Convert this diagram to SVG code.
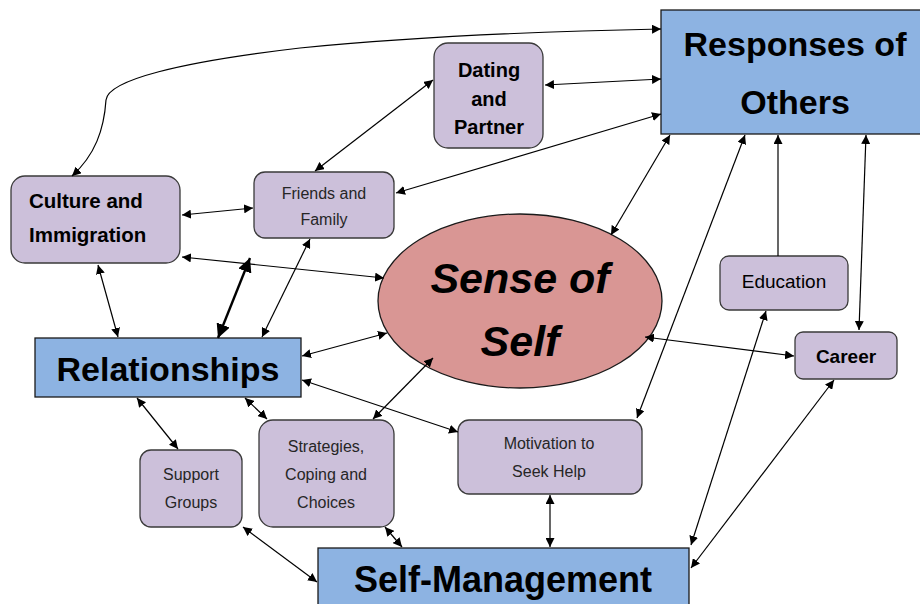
<svg xmlns="http://www.w3.org/2000/svg" width="920" height="604" viewBox="0 0 920 604">
<defs>
<style>
.p{fill:#ccc0da;stroke:#3a3a3a;stroke-width:1.3}
.b{fill:#8db3e2;stroke:#1a1a1a;stroke-width:1.3}
.t{font-family:"Liberation Sans",Arial,sans-serif;fill:#000;text-anchor:middle}
.l{text-anchor:start}
.bd{font-weight:bold}
.s{font-size:16px;fill:#262626}
.c{fill:none;stroke:#000;stroke-width:1.2}
</style>
<marker id="a" viewBox="0 0 10 10" refX="10" refY="5" markerWidth="9" markerHeight="9" markerUnits="userSpaceOnUse" orient="auto-start-reverse">
<path d="M0,0 L10,5 L0,10 z" fill="#000"/>
</marker>
<marker id="ab" viewBox="0 0 10 10" refX="10" refY="5" markerWidth="14" markerHeight="14" markerUnits="userSpaceOnUse" orient="auto-start-reverse">
<path d="M0,0 L10,5 L0,10 z" fill="#000"/>
</marker>
</defs>
<rect width="920" height="604" fill="#fff"/>
<g id="responses">
<rect class="b" x="661" y="10" width="262" height="124"/>
<text class="t bd" x="795" y="56" font-size="34">Responses of</text>
<text class="t bd" x="795" y="114" font-size="34">Others</text>
</g>
<g id="dating">
<rect class="p" x="434" y="43" width="109" height="105" rx="14"/>
<text class="t bd" x="489" y="77" font-size="20">Dating</text>
<text class="t bd" x="489" y="106" font-size="20">and</text>
<text class="t bd" x="489" y="134" font-size="20">Partner</text>
</g>
<g id="culture">
<rect class="p" x="11" y="176" width="169" height="87" rx="14"/>
<text class="t l bd" x="29" y="208" font-size="20.5">Culture and</text>
<text class="t l bd" x="29" y="242" font-size="20.5">Immigration</text>
</g>
<g id="friends">
<rect class="p" x="254" y="172" width="140" height="66" rx="11"/>
<text class="t s" x="324" y="199">Friends and</text>
<text class="t s" x="324" y="225">Family</text>
</g>
<g id="sense">
<ellipse cx="520" cy="301" rx="142" ry="87" fill="#d99694" stroke="#1a1a1a" stroke-width="1.3"/>
<text class="t bd" x="520" y="293" font-size="43" font-style="italic">Sense of</text>
<text class="t bd" x="520" y="356" font-size="43" font-style="italic">Self</text>
</g>
<g id="relationships">
<rect class="b" x="35" y="338" width="266" height="59"/>
<text class="t bd" x="168" y="381" font-size="34">Relationships</text>
</g>
<g id="support">
<rect class="p" x="140" y="450" width="102" height="77" rx="11"/>
<text class="t s" x="191" y="480">Support</text>
<text class="t s" x="191" y="508">Groups</text>
</g>
<g id="strategies">
<rect class="p" x="259" y="420" width="135" height="107" rx="14"/>
<text class="t s" x="326" y="452">Strategies,</text>
<text class="t s" x="326" y="480">Coping and</text>
<text class="t s" x="326" y="508">Choices</text>
</g>
<g id="motivation">
<rect class="p" x="458" y="420" width="184" height="74" rx="11"/>
<text class="t s" x="549" y="449">Motivation to</text>
<text class="t s" x="549" y="477">Seek Help</text>
</g>
<g id="education">
<rect class="p" x="720" y="256" width="128" height="54" rx="9"/>
<text class="t" x="784" y="288" font-size="19" fill="#262626">Education</text>
</g>
<g id="career">
<rect class="p" x="795" y="332" width="102" height="47" rx="8"/>
<text class="t bd" x="846" y="363" font-size="19">Career</text>
</g>
<g id="selfmanagement">
<rect class="b" x="318" y="548" width="371" height="60"/>
<text class="t bd" x="503" y="592" font-size="36">Self-Management</text>
</g>
<g id="connectors">
<path class="c" d="M72,176 C95,155 104,130 106,100 C108,80 180,62 300,48 C420,36 560,31 661,29" marker-start="url(#a)" marker-end="url(#a)"/>
<line class="c" x1="545" y1="85" x2="661" y2="79" marker-start="url(#a)" marker-end="url(#a)"/>
<line class="c" x1="315" y1="171" x2="433" y2="80" marker-start="url(#a)" marker-end="url(#a)"/>
<line class="c" x1="396" y1="193" x2="661" y2="114" marker-start="url(#a)" marker-end="url(#a)"/>
<line class="c" x1="182" y1="215" x2="253" y2="208" marker-start="url(#a)" marker-end="url(#a)"/>
<line class="c" x1="182" y1="257" x2="384" y2="278" marker-start="url(#a)" marker-end="url(#a)"/>
<line class="c" style="stroke-width:2.4" x1="218" y1="338" x2="250" y2="258" marker-start="url(#ab)" marker-end="url(#ab)"/>
<line class="c" x1="98" y1="265" x2="118" y2="337" marker-start="url(#a)" marker-end="url(#a)"/>
<line class="c" x1="310" y1="239" x2="262" y2="337" marker-start="url(#a)" marker-end="url(#a)"/>
<line class="c" x1="387" y1="333" x2="302" y2="356" marker-start="url(#a)" marker-end="url(#a)"/>
<line class="c" x1="433" y1="358" x2="373" y2="419" marker-start="url(#a)" marker-end="url(#a)"/>
<line class="c" x1="302" y1="380" x2="458" y2="432" marker-start="url(#a)" marker-end="url(#a)"/>
<line class="c" x1="137" y1="398" x2="178" y2="449" marker-start="url(#a)" marker-end="url(#a)"/>
<line class="c" x1="245" y1="398" x2="267" y2="419" marker-start="url(#a)" marker-end="url(#a)"/>
<line class="c" x1="243" y1="527" x2="317" y2="582" marker-start="url(#a)" marker-end="url(#a)"/>
<line class="c" x1="385" y1="527" x2="402" y2="547" marker-start="url(#a)" marker-end="url(#a)"/>
<line class="c" x1="550" y1="495" x2="550" y2="547" marker-start="url(#a)" marker-end="url(#a)"/>
<line class="c" x1="670" y1="135" x2="611" y2="235" marker-start="url(#a)" marker-end="url(#a)"/>
<line class="c" x1="745" y1="135" x2="637" y2="418" marker-start="url(#a)" marker-end="url(#a)"/>
<line class="c" x1="778" y1="256" x2="778" y2="135" marker-end="url(#a)"/>
<line class="c" x1="866" y1="135" x2="859" y2="330" marker-start="url(#a)" marker-end="url(#a)"/>
<line class="c" x1="645" y1="337" x2="794" y2="356" marker-start="url(#a)" marker-end="url(#a)"/>
<line class="c" x1="766" y1="311" x2="691" y2="545" marker-start="url(#a)" marker-end="url(#a)"/>
<line class="c" x1="834" y1="380" x2="691" y2="568" marker-start="url(#a)" marker-end="url(#a)"/>
</g>
</svg>
